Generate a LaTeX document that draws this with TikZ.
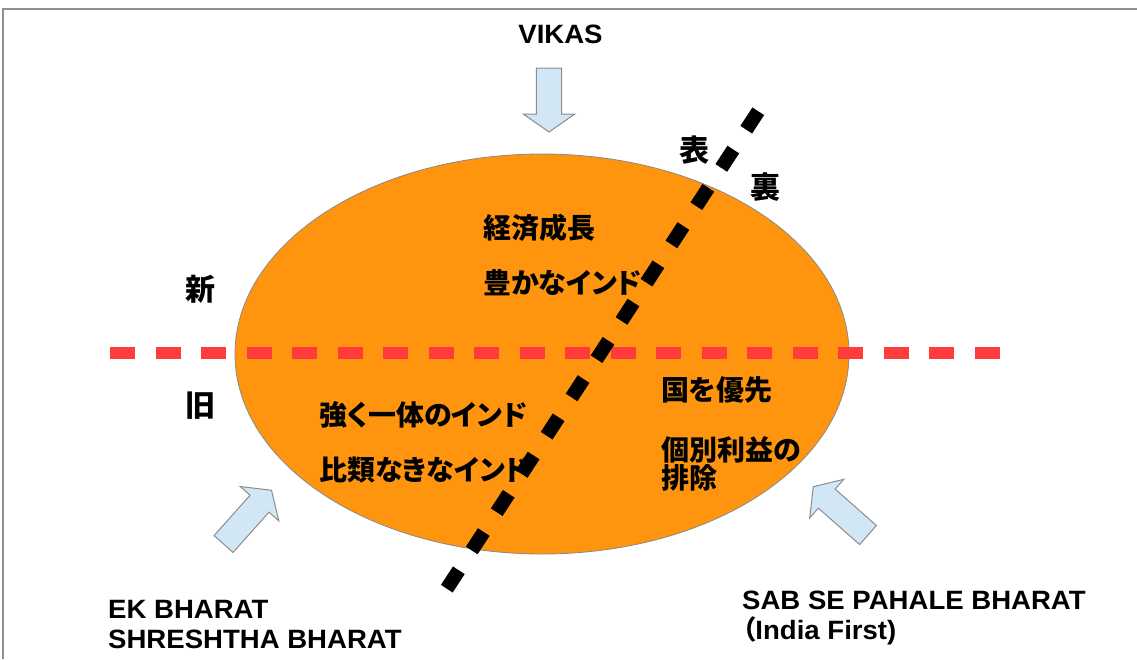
\documentclass[tikz,border=0pt]{standalone}
\usepackage{fontspec}
\newfontfamily\lat[FakeStretch=1.04]{Liberation Sans}
\newfontfamily\jp[RawFeature=+palt]{Noto Sans CJK JP}
\definecolor{ovalorange}{HTML}{FF950E}
\definecolor{ovalline}{HTML}{8A8A8A}
\definecolor{arrowblue}{HTML}{D2E7F5}
\definecolor{arrowgray}{HTML}{8C8C8C}
\definecolor{bordergray}{HTML}{8F8F8F}
\definecolor{dashred}{HTML}{FF3B3B}
\newcommand\blockarrow[4]{%
  \begin{scope}[shift={(#1,#2)},rotate=#3]
    \path[barrow] (0,-12.7) -- (#4-18,-12.7) -- (#4-18,-25.8) -- (#4,0)
      -- (#4-18,25.8) -- (#4-18,12.7) -- (0,12.7) -- cycle;
  \end{scope}}
\begin{document}
\begin{tikzpicture}[x=1pt,y=-1pt,
  lab/.style={font=\lat\bfseries\fontsize{26.5}{30}\selectfont, inner sep=0pt, align=left},
  jtxt/.style={font=\jp\bfseries\fontsize{28}{28.5}\selectfont, inner sep=0pt, align=left},
  bigj/.style={font=\jp\bfseries\fontsize{30}{30}\selectfont, inner sep=0pt},
  barrow/.style={fill=arrowblue, draw=arrowgray, line width=1pt, line join=miter},
  reddash/.style={draw=dashred, line width=12pt, dash pattern=on 25pt off 20.5pt},
  blackdash/.style={draw=black, line width=14pt, dash pattern=on 22pt off 23.67pt},
  oval/.style={fill=ovalorange, draw=ovalline, line width=0.8pt}]
\useasboundingbox (0,0) rectangle (1137,659);
\fill[white] (0,0) rectangle (1137,659);
% frame
\draw[bordergray, line width=2pt] (3,659) -- (3,9) -- (1137,9);
% oval
\path[oval] (542,354) ellipse [x radius=307, y radius=200];
% horizontal red dashed line
\path[reddash] (110,353) -- (1000,353);
% block arrows
\blockarrow{549}{68}{-90}{64}
\blockarrow{223.6}{544}{48.3}{72}
\blockarrow{868}{535}{138.6}{73}
% texts
\node[lab] (vikas) at (560.5,34) {VIKAS};
\node[bigj] (shin) at (200,289) {新};
\node[bigj] (kyu) at (200,406) {旧};
\node[bigj] (omote) at (694,150) {表};
\node[bigj] (ura) at (765,187) {裏};
\node[jtxt,anchor=west] (keizai) at (483,228) {経済成長};
\node[jtxt,anchor=west] (yutaka) at (483,283) {豊かなインド};
\node[jtxt,anchor=west] (tsuyoku) at (319,415) {強く一体のインド};
\node[jtxt,anchor=west] (hirui) at (319,470) {比類なきなインド};
\node[jtxt,anchor=west] (kuni) at (661,390) {国を優先};
\node[jtxt,anchor=west] (kobetsu) at (661,464) {個別利益の\\排除};
\node[lab,anchor=west] (ek) at (108,625) {EK BHARAT\\SHRESHTHA BHARAT};
\node[lab,anchor=west] (sab) at (742,618) {SAB SE PAHALE BHARAT\\{\jp （}India First)};
% diagonal black dashed line
\coordinate (dlow) at (446.8,588.7);
\coordinate (dhigh) at (758.3,111.2);
\path[blackdash] (dlow) -- (dhigh);
\end{tikzpicture}
\end{document}
